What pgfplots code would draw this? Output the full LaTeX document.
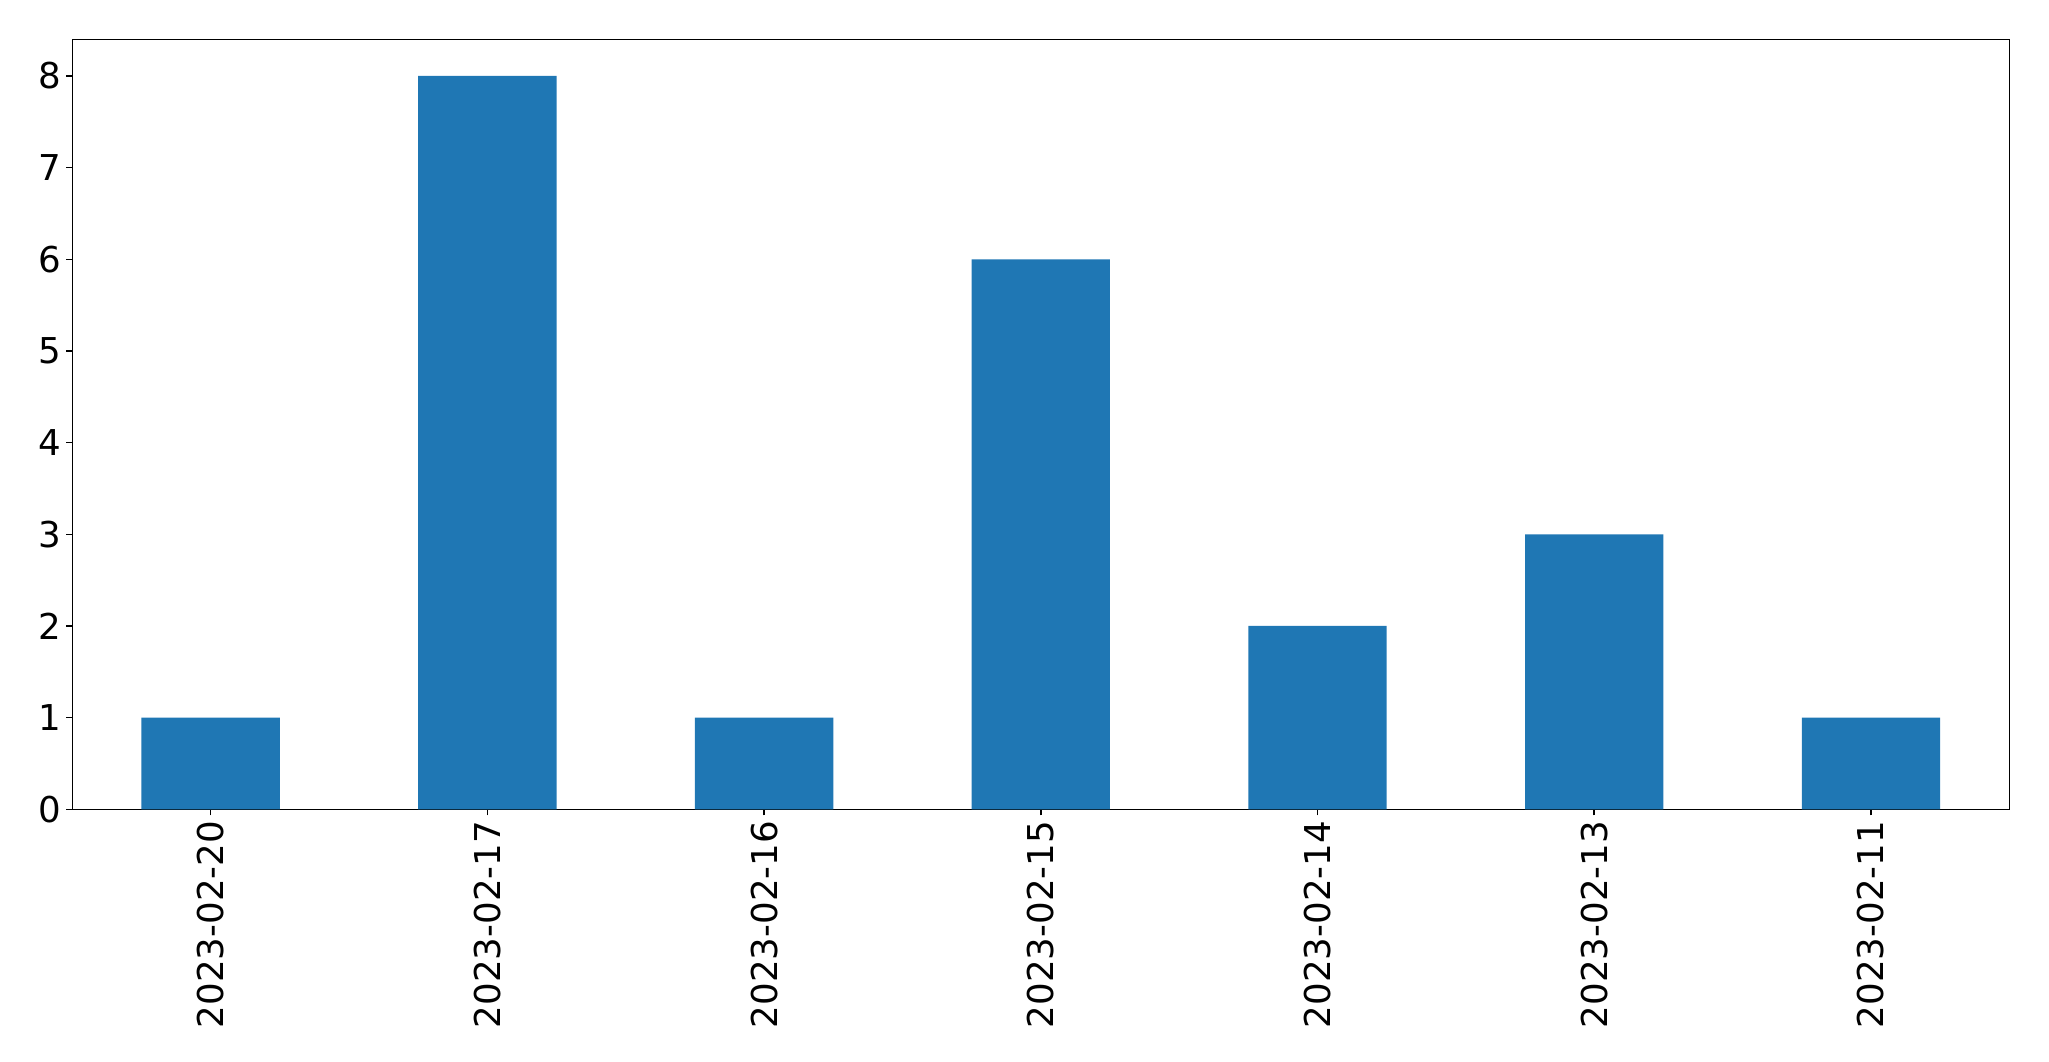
\documentclass[border=0pt]{standalone}
\usepackage{fontspec}
\setmainfont{DejaVu Sans}
\usepackage{pgfplots}
\pgfplotsset{compat=1.18}
\definecolor{mplblue}{HTML}{1F77B4}
\begin{document}
\begin{tikzpicture}
\useasboundingbox (-36.15pt,-125.85pt) rectangle (988.35pt,404.65pt);
\begin{axis}[
  at={(0,0)}, anchor=south west,
  scale only axis,
  width=968.5pt, height=385pt,
  xmin=-0.5, xmax=6.5, ymin=0, ymax=8.4,
  xtick={0,1,2,3,4,5,6},
  xticklabels={2023-02-20,2023-02-17,2023-02-16,2023-02-15,2023-02-14,2023-02-13,2023-02-11},
  ytick={0,1,2,3,4,5,6,7,8},
  tick align=outside,
  major tick length=3pt,
  tick style={black, line width=0.8pt},
  axis line style={line width=0.8pt},
  xtick pos=bottom, ytick pos=left,
  /pgf/number format/assume math mode=true,
  ticklabel style={font=\fontsize{17.8}{21}\selectfont, inner sep=0pt},
  xticklabel style={rotate=90, anchor=east},
  yticklabel style={anchor=east},
  xticklabel shift=2.7pt,
  yticklabel shift=2.5pt,
]
\addplot[ybar, bar width=0.5, fill=mplblue, draw=none, bar shift=0pt]
  coordinates {(0,1) (1,8) (2,1) (3,6) (4,2) (5,3) (6,1)};
\end{axis}
\end{tikzpicture}
\end{document}
